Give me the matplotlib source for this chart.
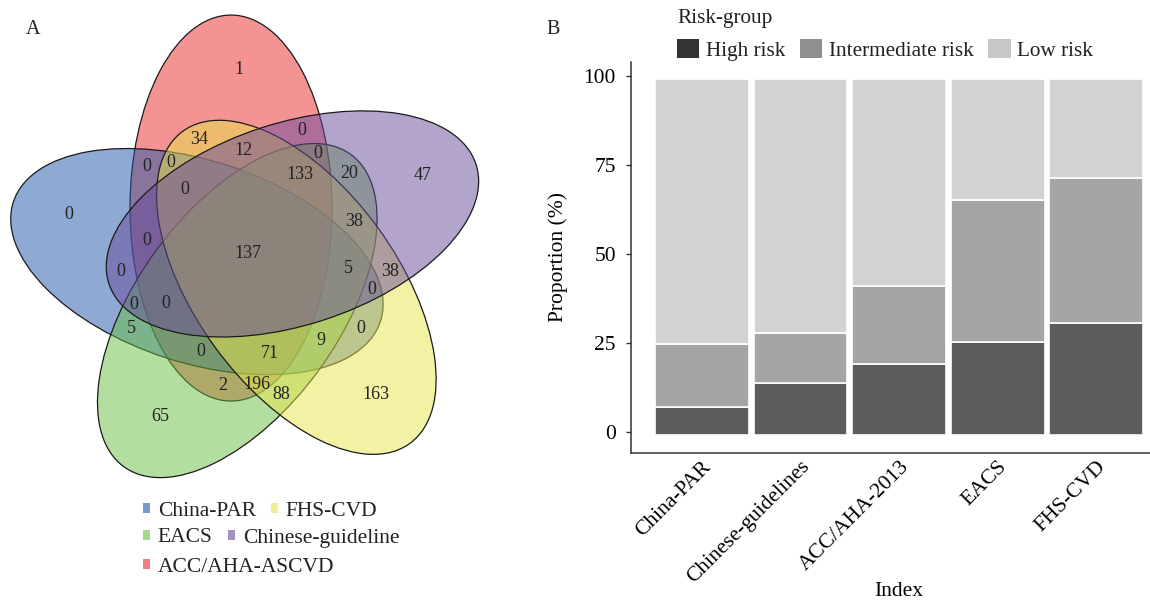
import numpy as np
import matplotlib
matplotlib.use("Agg")
import matplotlib.pyplot as plt
from matplotlib.patches import Ellipse, Patch
from matplotlib.colors import to_rgba

plt.rcParams["font.family"] = ["Liberation Serif", "DejaVu Serif"]
plt.rcParams["text.color"] = "#222222"

# ---- Panel A: five-set Venn ----
SET_NAMES = ["China-PAR", "FHS-CVD", "EACS", "Chinese-guideline", "ACC/AHA-ASCVD"]
SET_COLORS = ["#1f56aa", "#e8e44b", "#69be41", "#694b9b", "#eb2828"]
# one character per set, in SET_NAMES order (1 = inside)
REGION_CODES = [
    "00001", "01001", "00011", "01011", "00111", "11001", "10001", "01111",
    "00110", "00010", "11011", "10000", "01110", "10011", "11111", "10010",
    "01010", "11110", "11010", "10110", "10111", "10100", "11000", "10101",
    "11100", "11101", "00101", "01101", "01100", "01000", "00100",
]
REGION_COUNTS = [
    1, 34, 0, 12, 0, 0, 0, 133,
    20, 47, 0, 0, 38, 0, 137, 0,
    38, 5, 0, 0, 0, 5, 0, 0,
    9, 71, 2, 196, 88, 163, 65,
]

# ---- Panel B: risk-group proportions (%) ----
INDEXES = ["China-PAR", "Chinese-guidelines", "ACC/AHA-2013", "EACS", "FHS-CVD"]
RISK_GROUPS = ["High risk", "Intermediate risk", "Low risk"]
HIGH = [8.0, 14.6, 19.9, 26.1, 31.4]
INTERMEDIATE = [17.6, 14.0, 22.1, 40.0, 40.8]
LOW = [74.4, 71.4, 58.0, 33.9, 27.8]
RISK_COLORS = ["#333333", "#8f8f91", "#c7c7c9"]

# Venn layout (pixel units, centre of the diagram at 0,0)
SLOT = [4, 2, 3, 1, 0]          # ellipse slot of each set, clockwise from the top one
DRAW_ORDER = [4, 0, 2, 1, 3]
SEMI_MAJOR, SEMI_MINOR = 193, 101
OFFSET, OFFSET_ANGLE = 54, 111.5


def ellipse_geom(slot):
    phi = np.deg2rad(OFFSET_ANGLE - 72 * slot)
    return OFFSET * np.cos(phi), OFFSET * np.sin(phi), 90 - 72 * slot


def inside(slot, gx, gy):
    cx, cy, rot = ellipse_geom(slot)
    t = np.deg2rad(rot)
    ux, uy = gx - cx, gy - cy
    along = ux * np.cos(t) + uy * np.sin(t)
    perp = -ux * np.sin(t) + uy * np.cos(t)
    return (along / SEMI_MAJOR) ** 2 + (perp / SEMI_MINOR) ** 2 < 1


def deepest_point(mask, gx, gy):
    """Erode the region until it vanishes, return the middle of what was left last."""
    m = mask.copy()
    last = m
    while m.any():
        last = m
        m = (m & np.roll(m, 1, 0) & np.roll(m, -1, 0)
             & np.roll(m, 1, 1) & np.roll(m, -1, 1))
    return gx[last].mean(), gy[last].mean()


fig = plt.figure(figsize=(11.5, 6.01), dpi=100)

# ---- Panel A ----
VX, VY = 250.8, 258.3
ax_v = fig.add_axes([0, 0, 0.45, 1])
ax_v.set_xlim(-VX, 0.45 * 1150 - VX)
ax_v.set_ylim(-(601 - VY), VY)
ax_v.axis("off")

for i in DRAW_ORDER:
    cx, cy, rot = ellipse_geom(SLOT[i])
    ax_v.add_patch(Ellipse((cx, cy), 2 * SEMI_MAJOR, 2 * SEMI_MINOR, angle=rot,
                           facecolor=to_rgba(SET_COLORS[i], 0.5),
                           edgecolor="#1a1a1a", linewidth=0.9))

grid = np.arange(-252, 252, 1.5)
gx, gy = np.meshgrid(grid, grid)
masks = [inside(SLOT[i], gx, gy) for i in range(5)]
for code, n in zip(REGION_CODES, REGION_COUNTS):
    m = np.ones_like(gx, dtype=bool)
    for i, c in enumerate(code):
        m &= masks[i] if c == "1" else ~masks[i]
    px, py = deepest_point(m, gx, gy)
    ax_v.text(px, py, str(n), ha="center", va="center", fontsize=13)

fig.text(33 / 1150, 1 - 30 / 601, "A", fontsize=14.5, ha="center", va="center")

legend_rows = [[0, 1], [2, 3], [4]]
row_y = [511, 538, 567]
for row, y in zip(legend_rows, row_y):
    fig.legend(
        handles=[Patch(facecolor=to_rgba(SET_COLORS[i], 0.6), edgecolor="none") for i in row],
        labels=[SET_NAMES[i] for i in row],
        ncol=len(row), loc="center left", bbox_to_anchor=(143 / 1150, 1 - y / 601),
        frameon=False, fontsize=15.5, handlelength=0.33, handleheight=0.33,
        handletextpad=0.35, columnspacing=0.72, borderpad=0, borderaxespad=0,
    )

# ---- Panel B ----
left, right = 630.7, 1167.6
top, bottom = 61.7, 453.3
ax_b = fig.add_axes([left / 1150, 1 - bottom / 601, (right - left) / 1150, (bottom - top) / 601])
x = np.arange(len(INDEXES))
base = np.full(len(INDEXES), -1.0)
for vals, col in zip([HIGH, INTERMEDIATE, LOW], RISK_COLORS):
    ax_b.bar(x, vals, bottom=base, width=0.95, color=to_rgba(col, 0.8),
             edgecolor="white", linewidth=1.2)
    base = base + np.array(vals)

ax_b.set_xlim(-0.723, len(INDEXES) - 1 + 0.723)
ax_b.set_ylim(-6.07, 103.93)
ax_b.set_yticks([0, 25, 50, 75, 100])
ax_b.set_xticks(x)
ax_b.set_xticklabels(INDEXES, rotation=45, ha="right", va="top", rotation_mode="anchor")
for s in ["top", "right"]:
    ax_b.spines[s].set_visible(False)
for s in ["left", "bottom"]:
    ax_b.spines[s].set_color("#333333")
    ax_b.spines[s].set_linewidth(1.1)
ax_b.tick_params(axis="y", length=3.6, width=1.0, color="#333333", labelsize=15.5, pad=7)
ax_b.tick_params(axis="x", length=0, labelsize=15.5, pad=3)
ax_b.set_ylabel("Proportion (%)", fontsize=15.5, va="center")
ax_b.yaxis.set_label_coords((558 - left) / (right - left), 0.5)
ax_b.set_xlabel("Index", fontsize=15.5)
ax_b.xaxis.set_label_coords(0.5, -(591.5 - bottom) / (bottom - top))
ax_b.xaxis.label.set_va("center")

fig.text(553 / 1150, 1 - 30 / 601, "B", fontsize=14.5, ha="center", va="center")
leg = fig.legend(
    handles=[Patch(facecolor=c, edgecolor="none") for c in RISK_COLORS],
    labels=RISK_GROUPS, ncol=3, title="Risk-group", loc="upper left",
    bbox_to_anchor=(677 / 1150, 1 - 9 / 601), frameon=False, fontsize=15.3,
    title_fontsize=15.3, handlelength=1.05, handleheight=1.05, handletextpad=0.3,
    columnspacing=0.7, borderpad=0, borderaxespad=0, alignment="left",
)

fig.savefig("out.png", dpi=100)
